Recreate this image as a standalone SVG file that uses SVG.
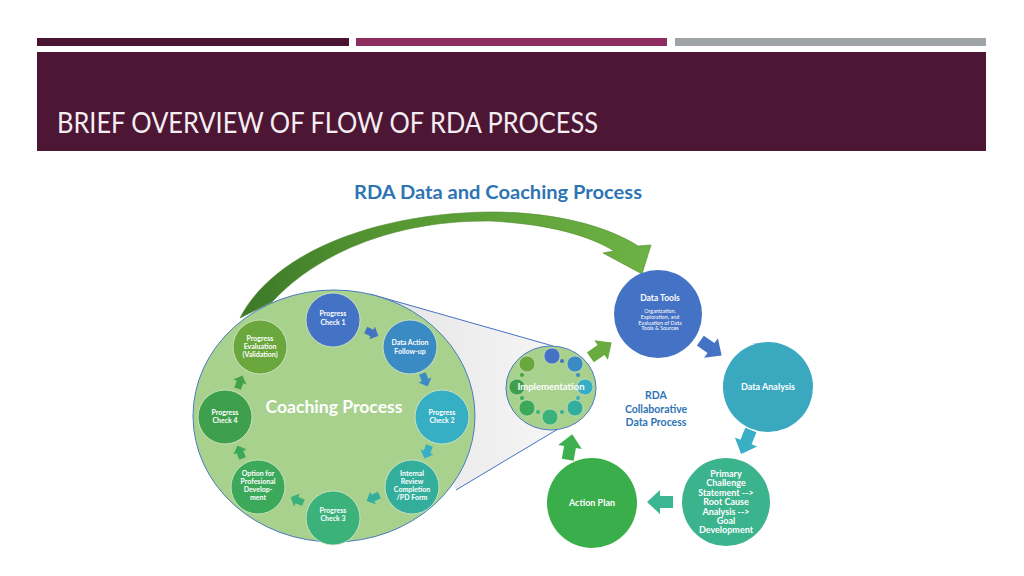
<svg xmlns="http://www.w3.org/2000/svg" width="1024" height="576" viewBox="0 0 1024 576">
<style>
.t{font-family:Lato,"Open Sans","Liberation Sans",sans-serif;fill:#fff;text-anchor:middle;font-weight:bold}
.n{font-size:7px}
.r{font-size:9px}
.s{font-size:5.4px;font-weight:normal}
.blue{fill:#2e74b5}
.node{stroke:#d8e8cc;stroke-width:0.8}
</style>
<defs>
<path id="bigArrow" d="M-13,-6 L0,-6 L0,-12 L13,0 L0,12 L0,6 L-13,6 Z"/>
<path id="smArrow" d="M-7,-3.5 L0,-3.5 L0,-7 L7,0 L0,7 L0,3.5 L-7,3.5 Z"/>
<linearGradient id="curveGrad" gradientUnits="userSpaceOnUse" x1="240" y1="0" x2="650" y2="0">
<stop offset="0" stop-color="#3c7828"/>
<stop offset="0.35" stop-color="#559632"/>
<stop offset="1" stop-color="#6db244"/>
</linearGradient>
<linearGradient id="grayGrad" gradientUnits="userSpaceOnUse" x1="370" y1="0" x2="560" y2="0">
<stop offset="0" stop-color="#e4e4e4"/>
<stop offset="1" stop-color="#f6f6f6"/>
</linearGradient>
</defs>
<rect width="1024" height="576" fill="#ffffff"/>
<g id="header">
<rect x="37" y="38" width="312" height="8" fill="#4a1533"/>
<rect x="356" y="38" width="311" height="8" fill="#8e2e60"/>
<rect x="675" y="38" width="311" height="8" fill="#9ea3a6"/>
<rect x="37" y="52" width="949" height="99" fill="#4d1634"/>
<text x="57" y="133" font-family="Lato,'Open Sans','Liberation Sans',sans-serif" font-size="28" fill="#f4eef2" textLength="541" lengthAdjust="spacingAndGlyphs">BRIEF OVERVIEW OF FLOW OF RDA PROCESS</text>
</g>
<text x="498" y="199" class="t blue" font-size="19" textLength="288" lengthAdjust="spacingAndGlyphs">RDA Data and Coaching Process</text>
<g id="connectors">
<path d="M240,318 C275,250 380,213 490,212 C560,212 610,228 638,246 L651,245 L642,274 L603,253 L614,251 C590,236 550,224 490,221 C400,220 320,250 272,302 Z" fill="url(#curveGrad)" stroke="#4d8a30" stroke-width="0.6"/>
<polygon points="370,294 553,346 563,426 456,490" fill="url(#grayGrad)"/>
<line x1="370" y1="294" x2="553" y2="346" stroke="#4472c4" stroke-width="1"/>
<line x1="456" y1="490" x2="563" y2="426" stroke="#4472c4" stroke-width="1"/>
</g>
<g id="coaching">
<ellipse cx="334" cy="416" rx="141" ry="126" fill="#a9d18e" stroke="#4a7bbf" stroke-width="1"/>
<text x="334" y="413" class="t" font-size="16.5" textLength="137" lengthAdjust="spacingAndGlyphs">Coaching Process</text>
</g>
<g id="coaching-arrows">
<use href="#smArrow" transform="translate(372,333) rotate(25)" fill="#4472c4"/>
<use href="#smArrow" transform="translate(425,380) rotate(68)" fill="#3a8ac4"/>
<use href="#smArrow" transform="translate(427,452) rotate(111)" fill="#36aec4"/>
<use href="#smArrow" transform="translate(373,498) rotate(155)" fill="#34ae9c"/>
<use href="#smArrow" transform="translate(297,500) rotate(204)" fill="#3bb07a"/>
<use href="#smArrow" transform="translate(240,452) rotate(249)" fill="#3ca95a"/>
<use href="#smArrow" transform="translate(240,382) rotate(290)" fill="#45a24a"/>
</g>
<g id="pc1">
<circle cx="333" cy="320" r="27" fill="#4472c4" class="node"/>
<text class="t n" x="333" y="316">Progress<tspan x="333" dy="9">Check 1</tspan></text>
</g>
<g id="daf">
<circle cx="410" cy="347" r="27" fill="#3a8ac4" class="node"/>
<text class="t n" x="410" y="344.5">Data Action<tspan x="410" dy="9">Follow-up</tspan></text>
</g>
<g id="pc2">
<circle cx="442" cy="417" r="27" fill="#36aec4" class="node"/>
<text class="t n" x="442" y="414.5">Progress<tspan x="442" dy="8.5">Check 2</tspan></text>
</g>
<g id="ir">
<circle cx="412" cy="487" r="27" fill="#34ae9c" class="node"/>
<text class="t n" x="412" y="475.5">Internal<tspan x="412" dy="8">Review</tspan><tspan x="412" dy="8">Completion</tspan><tspan x="412" dy="8">/PD Form</tspan></text>
</g>
<g id="pc3">
<circle cx="333" cy="518" r="27" fill="#3bb27a" class="node"/>
<text class="t n" x="333" y="512.5">Progress<tspan x="333" dy="8.5">Check 3</tspan></text>
</g>
<g id="opd">
<circle cx="258" cy="487" r="27" fill="#3ba85a" class="node"/>
<text class="t n" x="258" y="475.5">Option for<tspan x="258" dy="8">Profesional</tspan><tspan x="258" dy="8">Develop-</tspan><tspan x="258" dy="8">ment</tspan></text>
</g>
<g id="pc4">
<circle cx="225" cy="417" r="27" fill="#3ea04c" class="node"/>
<text class="t n" x="225" y="414.5">Progress<tspan x="225" dy="8.5">Check 4</tspan></text>
</g>
<g id="pe">
<circle cx="260" cy="347" r="27" fill="#6aa83e" class="node"/>
<text class="t n" x="260" y="340.5">Progress<tspan x="260" dy="8">Evaluation</tspan><tspan x="260" dy="8">(Validation)</tspan></text>
</g>
<g id="implementation">
<ellipse cx="551" cy="388" rx="45" ry="42" fill="#a9d18e" stroke="#4a7bbf" stroke-width="1"/>
<circle cx="552" cy="356" r="8" fill="#4472c4" stroke="#d8e8cc" stroke-width="0.6"/>
<circle cx="575" cy="364" r="8" fill="#3a8ac4" stroke="#d8e8cc" stroke-width="0.6"/>
<circle cx="585" cy="387" r="8" fill="#36aec4" stroke="#d8e8cc" stroke-width="0.6"/>
<circle cx="575" cy="408" r="8" fill="#34ae9c" stroke="#d8e8cc" stroke-width="0.6"/>
<circle cx="550" cy="417" r="8" fill="#3bb27a" stroke="#d8e8cc" stroke-width="0.6"/>
<circle cx="527" cy="408" r="8" fill="#3ba85a" stroke="#d8e8cc" stroke-width="0.6"/>
<circle cx="517" cy="387" r="8" fill="#3ea04c" stroke="#d8e8cc" stroke-width="0.6"/>
<circle cx="527" cy="364" r="8" fill="#6aa83e" stroke="#d8e8cc" stroke-width="0.6"/>
<circle cx="562" cy="361" r="2" fill="#4472c4"/>
<circle cx="578" cy="375" r="2" fill="#3a8ac4"/>
<circle cx="578" cy="398" r="2" fill="#36aec4"/>
<circle cx="562" cy="412" r="2" fill="#34ae9c"/>
<circle cx="538" cy="412" r="2" fill="#3bb27a"/>
<circle cx="522" cy="398" r="2" fill="#3ba85a"/>
<circle cx="522" cy="375" r="2" fill="#45a24a"/>
<text class="t" x="551" y="390" font-size="9" textLength="67" lengthAdjust="spacingAndGlyphs">Implementation</text>
</g>
<g id="rda-arrows">
<use href="#bigArrow" transform="translate(601,350) rotate(-35)" fill="#6aab3f"/>
<use href="#bigArrow" transform="translate(711,348) rotate(35)" fill="#4472c4"/>
<use href="#bigArrow" transform="translate(746,442) rotate(112)" fill="#3aaec4"/>
<use href="#bigArrow" transform="translate(660,502) rotate(180)" fill="#3cb593"/>
<use href="#bigArrow" transform="translate(570,447) rotate(-80)" fill="#3fb04f"/>
</g>
<g id="data-tools">
<circle cx="658" cy="314" r="44" fill="#4472c4"/>
<text class="t" x="660" y="301" font-size="8.5">Data Tools</text>
<text class="t s" x="660" y="313">Organization,<tspan x="660" dy="5.8">Exploration, and</tspan><tspan x="660" dy="5.8">Evaluation of Data</tspan><tspan x="660" dy="5.8">Tools &amp; Sources</tspan></text>
</g>
<g id="data-analysis">
<circle cx="768" cy="387" r="45" fill="#3aa8bf"/>
<text class="t r" x="768" y="390">Data Analysis</text>
</g>
<g id="primary-challenge">
<circle cx="726" cy="502" r="44" fill="#3bb38c"/>
<text class="t r" x="726" y="477">Primary<tspan x="726" dy="9.4">Challenge</tspan><tspan x="726" dy="9.4">Statement --&gt;</tspan><tspan x="726" dy="9.4">Root Cause</tspan><tspan x="726" dy="9.4">Analysis --&gt;</tspan><tspan x="726" dy="9.4">Goal</tspan><tspan x="726" dy="9.4">Development</tspan></text>
</g>
<g id="action-plan">
<circle cx="592" cy="503" r="45" fill="#3aae4a"/>
<text class="t r" x="592" y="506">Action Plan</text>
</g>
<text class="t blue" x="656" y="399" font-size="10.5">RDA<tspan x="656" dy="13.5">Collaborative</tspan><tspan x="656" dy="13.5">Data Process</tspan></text>
</svg>
